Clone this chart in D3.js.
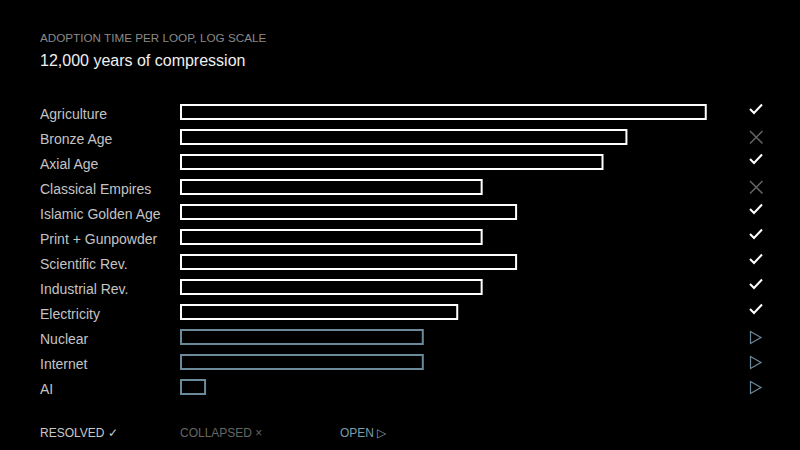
<!DOCTYPE html>
<html><head><meta charset="utf-8">
<script src="https://cdn.jsdelivr.net/npm/d3@7"></script>
<style>
html,body{margin:0;padding:0;background:#000;}
svg{display:block;}
text{font-family:"Liberation Sans",Arial,Helvetica,sans-serif;}
</style></head>
<body>
<script>
const categories = ["Agriculture","Bronze Age","Axial Age","Classical Empires","Islamic Golden Age","Print + Gunpowder","Scientific Rev.","Industrial Rev.","Electricity","Nuclear","Internet","AI"];
const adoptionYears = [2800,1100,830,200,300,200,300,200,150,100,100,7.7];
const status = ["resolved","collapsed","resolved","collapsed","resolved","resolved","resolved","resolved","resolved","open","open","open"];
const legendLabels = ["RESOLVED \u2713","COLLAPSED \u00d7","OPEN \u25b7"];
const legendKeys = ["resolved","collapsed","open"];

const W=800,H=450;
const barColors = {resolved:"#ffffff", collapsed:"#ffffff", open:"#6b8a99"};
const legendColors = {resolved:"#c8c8c8", collapsed:"#666666", open:"#7b9cad"};

const svg = d3.select("body").append("svg").attr("width",W).attr("height",H);
svg.append("rect").attr("width",W).attr("height",H).attr("fill","#000");

svg.append("text").attr("x",40).attr("y",42).attr("fill","#8a8a8a").attr("font-size",11.7).text("ADOPTION TIME PER LOOP, LOG SCALE");
svg.append("text").attr("x",40).attr("y",66).attr("fill","#f0f0f0").attr("font-size",16).text("12,000 years of compression");

const x = d3.scaleLog().domain([5.8,5000]).range([181,755]);
const y = d3.scaleBand().domain(categories).range([99.5,399.5]).paddingInner(0.44).paddingOuter(0.22);

const rows = svg.selectAll("g.row").data(categories.map((c,i)=>({c,v:adoptionYears[i],s:status[i]}))).enter().append("g").attr("class","row");

rows.append("text").attr("x",40).attr("y",d=>y(d.c)+y.bandwidth()/2+7).attr("fill","#c4c4c4").attr("font-size",14).text(d=>d.c);

rows.append("rect")
  .attr("x",x(5.8))
  .attr("y",d=>y(d.c))
  .attr("width",d=>x(d.v)-x(5.8))
  .attr("height",y.bandwidth())
  .attr("fill","none")
  .attr("stroke",d=>barColors[d.s])
  .attr("stroke-width",2);

rows.each(function(d){
  const g = d3.select(this);
  const cy = y(d.c)+y.bandwidth()/2;
  const cx = 756;
  if(d.s==="resolved"){
    g.append("path").attr("d",`M${cx-6},${cy-3} L${cx-2},${cy+1} L${cx+6},${cy-7.5}`)
      .attr("fill","none").attr("stroke","#fff").attr("stroke-width",2);
  } else if(d.s==="collapsed"){
    g.append("path").attr("d",`M${cx-6},${cy-6} L${cx+6.5},${cy+6.5} M${cx+6.5},${cy-6} L${cx-6},${cy+6.5}`)
      .attr("fill","none").attr("stroke","#666").attr("stroke-width",1.5);
  } else {
    g.append("path").attr("d",`M${cx-5.5},${cy-5.5} L${cx+5},${cy+0.5} L${cx-5.5},${cy+6.5} Z`)
      .attr("fill","none").attr("stroke","#6b8a99").attr("stroke-width",1.2);
  }
});

const lx = [40,180,340];
svg.selectAll("text.leg").data(legendKeys).enter().append("text").attr("class","leg")
  .attr("x",(d,i)=>lx[i]).attr("y",437).attr("font-size",12)
  .attr("fill",d=>legendColors[d]).text((d,i)=>legendLabels[i]);
</script>
</body></html>
